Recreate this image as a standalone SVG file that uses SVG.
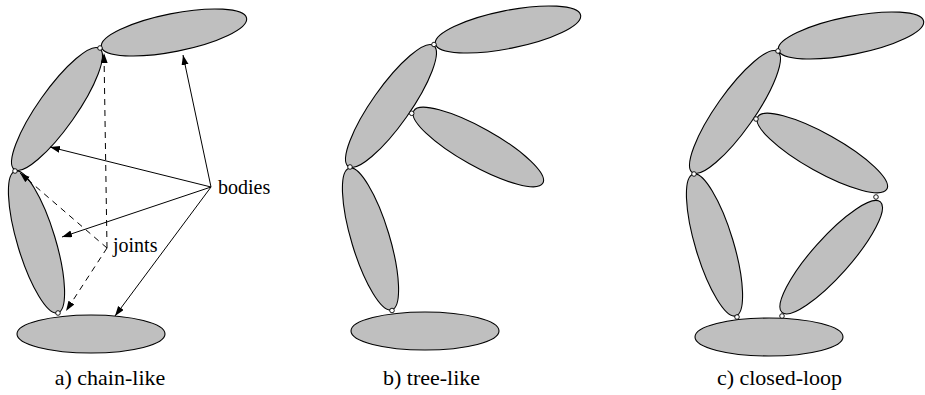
<svg xmlns="http://www.w3.org/2000/svg" width="925" height="395" viewBox="0 0 925 395">
<defs>
<marker id="tip" markerUnits="userSpaceOnUse" markerWidth="11" markerHeight="8" refX="10" refY="3.5" orient="auto">
<path d="M0,0 L10,3.5 L0,7 Z" fill="#000"/>
</marker>
<ellipse id="body" cx="0" cy="0" rx="74" ry="19" fill="#bfbfbf" stroke="#000" stroke-width="1.1"/>
<circle id="joint" cx="0" cy="0" r="2.3" fill="#fff" stroke="#000" stroke-width="0.9"/>
</defs>
<g id="panel-a">
<g id="a-body1"><use href="#body" transform="translate(174 32.5) rotate(-11.2)"/></g>
<g id="a-body2"><use href="#body" transform="translate(57 109) rotate(-54.8)"/></g>
<g id="a-body3"><use href="#body" transform="translate(36.5 242) rotate(73.2)"/></g>
<g id="a-body4"><use href="#body" transform="translate(91 334)"/></g>
<g id="a-joints">
<use href="#joint" x="100" y="48"/>
<use href="#joint" x="15" y="171"/>
<use href="#joint" x="58" y="313"/>
</g>
<g id="a-connectors" fill="none" stroke="#000" stroke-width="1" marker-end="url(#tip)">
<line x1="211" y1="187" x2="183" y2="55"/>
<line x1="211" y1="187" x2="50" y2="147"/>
<line x1="211" y1="187" x2="62" y2="237"/>
<line x1="211" y1="187" x2="115" y2="316"/>
<g stroke-dasharray="6 5">
<line x1="107" y1="248" x2="104" y2="53"/>
<line x1="107" y1="248" x2="20" y2="173"/>
<line x1="107" y1="248" x2="66" y2="311"/>
</g>
</g>
</g>
<g id="panel-b">
<g id="b-body1"><use href="#body" transform="translate(508 29.5) rotate(-11.2)"/></g>
<g id="b-body2"><use href="#body" transform="translate(391 106) rotate(-54.8)"/></g>
<g id="b-body3"><use href="#body" transform="translate(370.5 239) rotate(73.2)"/></g>
<g id="b-body4"><use href="#body" transform="translate(425 331)"/></g>
<g id="b-body5"><use href="#body" transform="translate(478.3 147) rotate(29.2)"/></g>
<g id="b-joints">
<use href="#joint" x="434" y="44.5"/>
<use href="#joint" x="350" y="167"/>
<use href="#joint" x="392" y="310.5"/>
<use href="#joint" x="411.7" y="113.3"/>
</g>
</g>
<g id="panel-c">
<g id="c-body1"><use href="#body" transform="translate(851 35.5) rotate(-11.2)"/></g>
<g id="c-body2"><use href="#body" transform="translate(735 112) rotate(-54.8)"/></g>
<g id="c-body3"><use href="#body" transform="translate(714.5 245) rotate(73.2)"/></g>
<g id="c-body4"><use href="#body" transform="translate(769 337)"/></g>
<g id="c-body5"><use href="#body" transform="translate(822.3 153) rotate(29.2)"/></g>
<g id="c-body6"><use href="#body" transform="translate(831.2 257.2) rotate(-48.3)"/></g>
<g id="c-joints">
<use href="#joint" x="778" y="51"/>
<use href="#joint" x="694" y="174"/>
<use href="#joint" x="737" y="317"/>
<use href="#joint" x="756" y="119"/>
<use href="#joint" x="876" y="197"/>
<use href="#joint" x="782" y="316"/>
</g>
</g>
<g id="labels" fill="#000">
<text x="218" y="194" font-size="20" font-family="Liberation Serif" style="font-family:Liberation Serif,serif !important">bodies</text>
<text x="113" y="252" font-size="20" font-family="Liberation Serif" style="font-family:Liberation Serif,serif !important">joints</text>
<text x="110" y="385" font-size="22" text-anchor="middle" font-family="Liberation Serif" style="font-family:Liberation Serif,serif !important">a) chain-like</text>
<text x="431.5" y="385" font-size="22" text-anchor="middle" font-family="Liberation Serif" style="font-family:Liberation Serif,serif !important">b) tree-like</text>
<text x="779.5" y="385" font-size="22" text-anchor="middle" font-family="Liberation Serif" style="font-family:Liberation Serif,serif !important">c) closed-loop</text>
</g>
</svg>
